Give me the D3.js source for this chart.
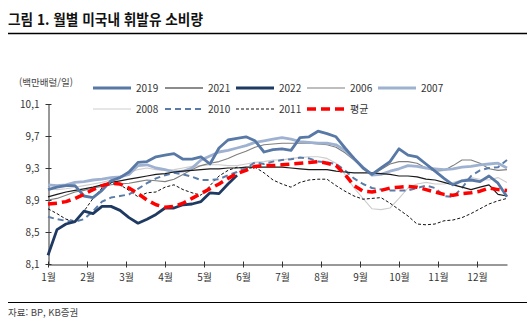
<!DOCTYPE html>
<html lang='ko'>
  <head>
    <meta charset='utf-8'>
    <style type='text/css'>
      body {margin: 0; background-color: #fff;}
      svg {display: block; font-family: 'Noto Sans CJK KR', 'Noto Sans', sans-serif;}
    </style>
  </head>
  <body>
    <svg id='chart' width='527' height='325'></svg>
    <script src='https://d3js.org/d3.v7.min.js'></script>
    <script type='text/javascript'>
        // weekly values, 52 weeks per year (million barrels/day)
        var months = ["1월","2월","3월","4월","5월","6월","7월","8월","9월","10월","11월","12월"];
        var yTicks = [8.1, 8.5, 8.9, 9.3, 9.7, 10.1];

        var y2019 = [9.03,9.06,9.08,9.08,8.95,8.93,9.02,9.14,9.18,9.25,9.37,9.38,9.44,9.46,9.48,9.41,9.41,9.44,9.35,9.55,9.65,9.67,9.69,9.64,9.50,9.53,9.54,9.52,9.68,9.69,9.76,9.73,9.69,9.55,9.42,9.30,9.22,9.30,9.38,9.54,9.46,9.44,9.35,9.26,9.17,9.09,9.14,9.15,9.13,9.20,9.11,8.94];
        var y2021 = [8.94,8.97,9.00,9.02,9.04,9.06,9.09,9.12,9.14,9.16,9.18,9.20,9.22,9.23,9.25,9.26,9.27,9.28,9.29,9.29,9.30,9.30,9.31,9.31,9.31,9.31,9.31,9.30,9.29,9.28,9.28,9.28,9.26,9.25,9.24,9.24,9.24,9.23,9.22,9.20,9.20,9.19,9.16,9.15,9.12,9.09,9.06,9.03,9.06,9.09,8.97,8.95];
        var y2022 = [8.21,8.53,8.60,8.63,8.76,8.73,8.82,8.82,8.77,8.68,8.61,8.66,8.72,8.80,8.80,8.84,8.85,8.88,8.99,8.98,9.10,9.21];
        var y2006 = [8.90,8.92,8.96,9.00,9.02,9.05,9.07,9.09,9.10,9.11,9.13,9.15,9.14,9.13,9.16,9.22,9.28,9.33,9.36,9.38,9.42,9.47,9.51,9.56,9.59,9.60,9.61,9.61,9.61,9.61,9.60,9.59,9.56,9.49,9.40,9.30,9.22,9.28,9.35,9.38,9.38,9.36,9.30,9.26,9.27,9.33,9.40,9.40,9.36,9.29,9.27,9.28];
        var y2007 = [9.09,9.08,9.09,9.12,9.13,9.15,9.16,9.18,9.19,9.22,9.33,9.34,9.30,9.28,9.25,9.26,9.30,9.40,9.45,9.50,9.52,9.55,9.58,9.62,9.64,9.66,9.68,9.66,9.63,9.62,9.61,9.61,9.59,9.52,9.42,9.31,9.21,9.22,9.26,9.29,9.33,9.32,9.30,9.29,9.28,9.29,9.31,9.32,9.34,9.35,9.36,9.30];
        var y2008 = [9.05,9.03,9.04,9.06,9.08,9.10,9.12,9.15,9.18,9.24,9.28,9.30,9.28,9.27,9.28,9.30,9.32,9.33,9.34,9.34,9.33,9.33,9.35,9.37,9.38,9.40,9.40,9.42,9.43,9.44,9.44,9.42,9.36,9.22,9.05,8.92,8.79,8.78,8.80,8.92,9.05,9.10,9.12,9.10,9.10,9.12,9.15,9.18,9.16,9.15,9.18,9.12];
        var y2010 = [8.69,8.66,8.64,8.63,8.66,8.76,8.88,8.93,8.95,8.97,9.04,9.11,9.17,9.21,9.24,9.22,9.19,9.15,9.15,9.16,9.21,9.25,9.30,9.37,9.35,9.38,9.40,9.41,9.43,9.42,9.38,9.37,9.35,9.27,9.17,9.10,9.05,9.03,9.02,9.02,9.02,9.05,9.08,9.05,8.95,8.94,9.05,9.20,9.27,9.30,9.31,9.40];
        var y2011 = [8.79,8.73,8.66,8.64,8.76,8.92,9.05,9.11,9.09,9.02,8.94,8.99,9.00,9.06,9.09,9.03,8.99,8.96,9.08,9.20,9.27,9.31,9.29,9.31,9.24,9.15,9.10,9.06,9.12,9.15,9.16,9.16,9.08,9.01,8.95,8.91,8.92,8.93,8.86,8.78,8.70,8.60,8.59,8.60,8.64,8.65,8.68,8.73,8.79,8.85,8.89,8.92];
        var yAvg  = [8.85,8.86,8.88,8.92,8.97,9.03,9.08,9.11,9.10,9.05,8.98,8.90,8.84,8.81,8.82,8.86,8.92,8.98,9.04,9.10,9.17,9.23,9.27,9.32,9.33,9.33,9.34,9.35,9.36,9.37,9.38,9.36,9.33,9.22,9.08,9.01,9.00,9.02,9.05,9.06,9.07,9.06,9.03,9.00,8.97,8.96,8.98,8.99,9.01,9.05,9.03,9.02];

        // series styles, drawn in this order (last on top)
        var series = [
          {name: "2008", values: y2008, color: "#cdcdcd", width: 1.1, dash: null},
          {name: "2006", values: y2006, color: "#7f7f7f", width: 1.1, dash: null},
          {name: "2007", values: y2007, color: "#9fb1d0", width: 2.8, dash: null},
          {name: "2011", values: y2011, color: "#111111", width: 1, dash: "3,2"},
          {name: "2010", values: y2010, color: "#5b7ca8", width: 2, dash: "6,4"},
          {name: "2021", values: y2021, color: "#1a1a1a", width: 1.2, dash: null},
          {name: "2019", values: y2019, color: "#5878a6", width: 2.8, dash: null},
          {name: "2022", values: y2022, color: "#1f3a62", width: 2.8, dash: null},
          {name: "평균", values: yAvg, color: "#ff0000", width: 3.5, dash: "9,5"}
        ];
        function styleOf(n) { return series.find(function(s){ return s.name === n; }); }

        var legendRows = [["2019","2021","2022","2006","2007"], ["2008","2010","2011","평균"]];

        var svg = d3.select("#chart");

        // title
        svg.append("text").attr("x", 8).attr("y", 25)
          .attr("font-size", 14.5).attr("font-weight", "bold").attr("fill", "#111")
          .attr("textLength", 195).attr("lengthAdjust", "spacingAndGlyphs")
          .text("그림 1. 월별 미국내 휘발유 소비량");
        svg.append("line").attr("x1", 8).attr("x2", 527).attr("y1", 33.5).attr("y2", 33.5)
          .attr("stroke", "#000").attr("stroke-width", 1.5);

        // scales
        var x = d3.scaleLinear().domain([0, 51]).range([48, 507]);
        var y = d3.scaleLinear().domain([8.1, 10.1]).range([264, 104]);

        svg.append("text").attr("x", 19).attr("y", 86)
          .attr("font-size", 9.5).attr("fill", "#444").text("(백만배럴/일)");

        // y axis
        var yAxis = svg.append("g").attr("transform", "translate(48.5,0)")
          .call(d3.axisLeft(y).tickValues(yTicks).tickSizeInner(3).tickSizeOuter(0)
            .tickFormat(function(d){ return d3.format(".1f")(d).replace(".", ","); }));
        yAxis.select(".domain").attr("stroke", "#333");
        yAxis.selectAll(".tick line").attr("x2", 3).attr("x1", -3).attr("stroke", "#333");
        yAxis.selectAll(".tick text").attr("x", -9).attr("font-size", 10).attr("fill", "#333")
          .attr("font-family", "'Noto Sans CJK KR', sans-serif");

        // x axis with month ticks
        var monthPos = months.map(function(m, i){ return i * 52 / 12; });
        var xAxis = svg.append("g").attr("transform", "translate(0,264.5)")
          .call(d3.axisBottom(x).tickValues(monthPos).tickSizeInner(3).tickSizeOuter(0)
            .tickFormat(function(d, i){ return months[i]; }));
        xAxis.select(".domain").attr("stroke", "#333");
        xAxis.selectAll(".tick line").attr("y1", -3).attr("y2", 3).attr("stroke", "#333");
        xAxis.selectAll(".tick text").attr("y", 9).attr("font-size", 10).attr("fill", "#333")
          .attr("font-family", "'Noto Sans CJK KR', sans-serif");

        // lines
        var line = d3.line().x(function(d, i){ return x(i); }).y(function(d){ return y(d); });
        svg.append("g").selectAll("path").data(series).enter().append("path")
          .attr("d", function(d){ return line(d.values); })
          .attr("fill", "none")
          .attr("stroke", function(d){ return d.color; })
          .attr("stroke-width", function(d){ return d.width; })
          .attr("stroke-dasharray", function(d){ return d.dash; })
          .attr("stroke-linejoin", "round");

        // legend
        var legX = [93, 165, 236, 307, 378];
        var legY = [88, 109];
        legendRows.forEach(function(row, r){
          var g = svg.append("g");
          row.forEach(function(n, c){
            var s = styleOf(n);
            g.append("line").attr("x1", legX[c]).attr("x2", legX[c] + 38)
              .attr("y1", legY[r]).attr("y2", legY[r])
              .attr("stroke", s.color).attr("stroke-width", s.width)
              .attr("stroke-dasharray", s.dash);
            g.append("text").attr("x", legX[c] + 43).attr("y", legY[r] + 4)
              .attr("font-size", 10).attr("fill", "#333").text(n);
          });
        });

        // footer
        svg.append("line").attr("x1", 8).attr("x2", 527).attr("y1", 302.5).attr("y2", 302.5)
          .attr("stroke", "#000").attr("stroke-width", 1.2);
        svg.append("text").attr("x", 8).attr("y", 316)
          .attr("font-size", 9.5).attr("fill", "#444").text("자료: BP, KB증권");
    </script>
  </body>
</html>
